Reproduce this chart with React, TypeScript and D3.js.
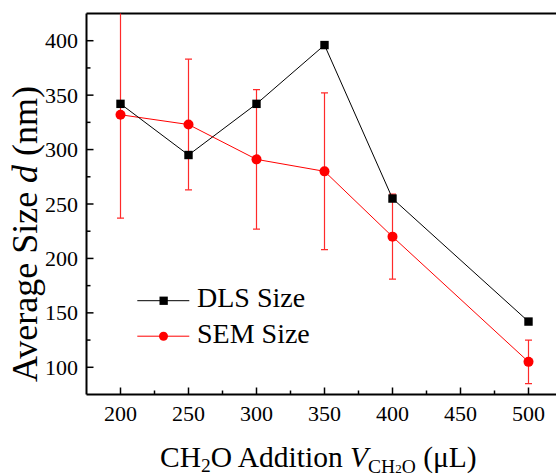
import React from 'react';
import * as d3 from 'd3';

const volumes = [200, 250, 300, 350, 400, 500];
const dlsSize = [342, 295, 342, 396, 255, 142];
const semSize = [332, 323, 291, 280, 220, 105];
const semError = [95, 60, 64, 72, 39, 20];
const xTicks = [200, 250, 300, 350, 400, 450, 500];
const xMinor = [225, 275, 325, 375, 425, 475];
const yTicks = [100, 150, 200, 250, 300, 350, 400];
const yMinor = [125, 175, 225, 275, 325, 375];
const seriesNames = ['DLS Size', 'SEM Size'];

const W = 556, H = 476;
const FONT = 'Liberation Serif';
const RED = '#ff0000';

const left = 86.5, top = 13.5, bottom = 394.5, right = 562.5;
const x = d3.scaleLinear().domain([175, 525]).range([left, right]);
const y = d3.scaleLinear().domain([75, 425]).range([bottom, top]);
const line = d3.line<number>().x((d, i) => x(volumes[i])).y(d => y(d));

export default function App() {
  return (
    <svg width={W} height={H} style={{ position: 'absolute', left: 0, top: 0, background: '#fff' }}>
      <defs>
        <clipPath id="plotclip">
          <rect x={left} y={top} width={right - left} height={bottom - top} />
        </clipPath>
      </defs>

      {/* ticks, pointing inward */}
      <g stroke="#000" strokeWidth={1.5}>
        {xTicks.map(t => <line key={'xt' + t} x1={x(t)} x2={x(t)} y1={bottom} y2={bottom - 7} />)}
        {xMinor.map(t => <line key={'xm' + t} x1={x(t)} x2={x(t)} y1={bottom} y2={bottom - 4} />)}
        {yTicks.map(t => <line key={'yt' + t} x1={left} x2={left + 7} y1={y(t)} y2={y(t)} />)}
        {yMinor.map(t => <line key={'ym' + t} x1={left} x2={left + 4} y1={y(t)} y2={y(t)} />)}
      </g>
      <g stroke="#000" strokeWidth={2}>
        <line x1={left} x2={right} y1={bottom} y2={bottom} />
        <line x1={left} x2={right} y1={top} y2={top} />
        <line x1={left} x2={left} y1={top} y2={bottom} />
      </g>
      <g fontFamily={FONT} fontSize={22} fill="#000">
        {xTicks.map(t => (
          <text key={'xl' + t} x={x(t)} y={421} textAnchor="middle">{t}</text>
        ))}
        {yTicks.map(t => (
          <text key={'yl' + t} x={left - 8.5} y={y(t) + 7.5} textAnchor="end">{t}</text>
        ))}
      </g>

      <g clipPath="url(#plotclip)">
        {volumes.map((v, i) => (
          <g key={'eb' + v} stroke="#ff2a2a" strokeWidth={1.2}>
            <line x1={x(v)} x2={x(v)} y1={y(semSize[i] - semError[i])} y2={y(semSize[i] + semError[i])} />
            <line x1={x(v) - 3.5} x2={x(v) + 3.5} y1={y(semSize[i] - semError[i])} y2={y(semSize[i] - semError[i])} />
            <line x1={x(v) - 3.5} x2={x(v) + 3.5} y1={y(semSize[i] + semError[i])} y2={y(semSize[i] + semError[i])} />
          </g>
        ))}
        <path d={line(semSize) || ''} fill="none" stroke={RED} strokeWidth={1} />
        <path d={line(dlsSize) || ''} fill="none" stroke="#000" strokeWidth={1} />
        {dlsSize.map((d, i) => (
          <rect key={'sq' + i} x={x(volumes[i]) - 4.2} y={y(d) - 4.2} width={8.4} height={8.4} fill="#000" />
        ))}
        {semSize.map((d, i) => (
          <circle key={'ci' + i} cx={x(volumes[i])} cy={y(d)} r={5} fill={RED} />
        ))}
      </g>

      {/* legend */}
      <g fontFamily={FONT} fontSize={28}>
        {seriesNames.map((name, i) => {
          const ly = 300.7 + i * 35.5;
          const color = i === 0 ? '#000' : RED;
          return (
            <g key={name}>
              <line x1={137.3} x2={189.3} y1={ly} y2={ly} stroke={color} strokeWidth={1} />
              {i === 0
                ? <rect x={159.5} y={ly - 4.1} width={8.3} height={8.3} fill={color} />
                : <circle cx={163.5} cy={ly} r={4.5} fill={color} />}
              <text x={197} y={ly + 6.3}>{name}</text>
            </g>
          );
        })}
      </g>

      {/* axis titles */}
      <text x={160} y={466.5} fontFamily={FONT} fontSize={29.5}>
        <tspan>CH</tspan>
        <tspan dy={5.5} fontSize={19.5}>2</tspan>
        <tspan dy={-5.5}>O Addition </tspan>
        <tspan fontStyle="italic">V</tspan>
        <tspan dy={6} fontSize={19.5}>CH</tspan>
        <tspan fontSize={13}>2</tspan>
        <tspan fontSize={19.5}>O</tspan>
        <tspan dy={-6}> (μL)</tspan>
      </text>
      <text transform="translate(37,234) rotate(-90)" textAnchor="middle" fontFamily={FONT} fontSize={36}>
        <tspan>Average Size </tspan>
        <tspan fontStyle="italic">d</tspan>
        <tspan> (nm)</tspan>
      </text>
    </svg>
  );
}
